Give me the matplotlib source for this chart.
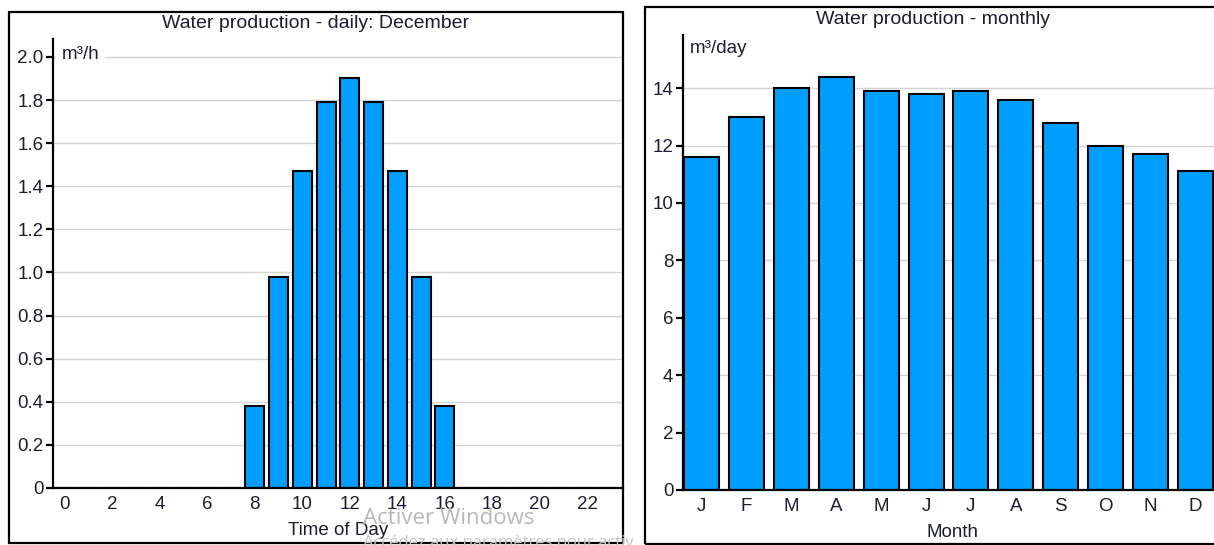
import numpy as np
import matplotlib.pyplot as plt
from matplotlib.patches import Rectangle
from matplotlib.transforms import Bbox, TransformedBbox

plt.rcParams['font.family'] = ['Liberation Sans', 'DejaVu Sans']

# daily production in December (m3/h), hours 0..23
hours = list(range(24))
daily = [0, 0, 0, 0, 0, 0, 0, 0,
         0.38, 0.98, 1.47, 1.79, 1.90, 1.79, 1.47, 0.98, 0.38,
         0, 0, 0, 0, 0, 0, 0]

# monthly production (m3/day)
months = ['J', 'F', 'M', 'A', 'M', 'J', 'J', 'A', 'S', 'O', 'N', 'D']
monthly = [11.6, 13.0, 14.0, 14.4, 13.9, 13.8, 13.9, 13.6, 12.8, 12.0, 11.7, 11.1]

W, H = 1214, 545
bar_col = '#009eff'
txt_col = '#1c1c34'
grid_col = '#d4d4d4'
fs = 13.5
fs_title = 14

fig = plt.figure(figsize=(W / 100, H / 100), dpi=100)


def px(x0, y0, x1, y1):
    # pixel box (top-left origin) -> figure fraction rect
    return [x0 / W, 1 - y1 / H, (x1 - x0) / W, (y1 - y0) / H]


def frame(x0, y0, x1, y1):
    r = px(x0, y0, x1, y1)
    fig.patches.append(Rectangle((r[0], r[1]), r[2], r[3], transform=fig.transFigure,
                                 fill=False, edgecolor='black', linewidth=1.6, zorder=5))


def style(ax):
    for s in ['top', 'right']:
        ax.spines[s].set_visible(False)
    for s in ['left', 'bottom']:
        ax.spines[s].set_linewidth(1.6)
        ax.spines[s].set_color('black')
    ax.yaxis.grid(True, color=grid_col, linewidth=1.0)
    ax.set_axisbelow(True)
    ax.tick_params(axis='x', length=0, pad=6, labelsize=fs, labelcolor=txt_col)
    ax.tick_params(axis='y', length=5, width=1.6, pad=2, labelsize=fs, labelcolor=txt_col)


# left: daily chart
frame(9, 12, 623, 543)
ax1 = fig.add_axes(px(53, 39, 623, 488))
ax1.bar(hours, daily, width=0.8, color=bar_col, edgecolor='black', linewidth=1.5)
ax1.set_xlim(-0.5, 23.5)
ax1.set_ylim(0, 2.083)
ax1.set_xticks(range(0, 24, 2))
yt = np.arange(0, 2.01, 0.2)
ax1.set_yticks(yt)
ax1.set_yticklabels(['0'] + ['%.1f' % v for v in yt[1:]])
style(ax1)
ax1.set_xlabel('Time of Day', fontsize=fs, color=txt_col, labelpad=6)
ax1.text(0.016, 0.985, 'm³/h', transform=ax1.transAxes, ha='left', va='top',
         fontsize=fs, color=txt_col,
         bbox=dict(facecolor='white', edgecolor='none', pad=4))
fig.text(316 / W, 1 - 24 / H, 'Water production - daily: December', ha='center', va='center',
         fontsize=fs_title, color=txt_col)

# right: monthly chart (runs past the image edge)
frame(645, 7, 1222, 544)
ax2 = fig.add_axes(px(683, 35, 1222, 490))
ax2.bar(range(12), monthly, width=0.78, color=bar_col, edgecolor='black', linewidth=1.5)
ax2.set_xlim(-0.42, 11.6)
ax2.set_ylim(0, 15.85)
ax2.set_xticks(range(12))
ax2.set_xticklabels(months)
ax2.set_yticks(range(0, 15, 2))
style(ax2)
ax2.set_xlabel('Month', fontsize=fs, color=txt_col, labelpad=6)
ax2.text(0.012, 0.99, 'm³/day', transform=ax2.transAxes, ha='left', va='top',
         fontsize=fs, color=txt_col)
fig.text(933 / W, 1 - 20 / H, 'Water production - monthly', ha='center', va='center',
         fontsize=fs_title, color=txt_col)

# windows activation watermark
fig.text(363 / W, 1 - 518 / H, 'Activer Windows', fontsize=16, color='#b8b8b8',
         family='Open Sans', ha='left', va='center', zorder=10)
t = fig.text(363 / W, 1 - 543 / H, 'Accédez aux paramètres pour activer Windows.',
             fontsize=12, color='#c4c4c4', family='Open Sans', ha='left', va='center', zorder=10)
t.set_clip_on(True)
t.set_clip_box(TransformedBbox(Bbox([[0, 0], [633 / W, 1]]), fig.transFigure))

fig.savefig('out.png', dpi=100)
